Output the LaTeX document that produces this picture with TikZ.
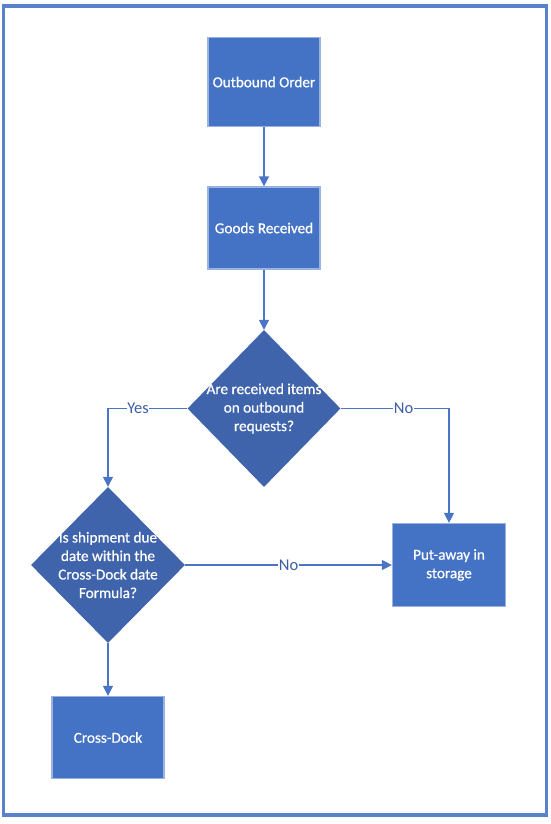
\documentclass[tikz,border=0pt]{standalone}
\usepackage{fontspec}
\setmainfont{Carlito}
\newfontfamily\boxfont{Carlito}[FakeBold=0.6]
\usetikzlibrary{shapes.geometric,arrows.meta}
\definecolor{boxblue}{HTML}{4472C4}
\definecolor{diablue}{HTML}{3F64AB}
\definecolor{edgeblue}{HTML}{9AB2DF}
\definecolor{lineblue}{HTML}{4A75C4}
\definecolor{labblue}{HTML}{3B5EA6}
\definecolor{frameblue}{HTML}{5A82CA}
\tikzset{
  txt/.style={font=\boxfont\fontsize{15.2}{18.5}\selectfont, text=white, align=center},
  procbox/.style={rectangle, fill=boxblue, draw=edgeblue, line width=1.2pt, inner sep=0pt, txt},
  decbox/.style={diamond, fill=diablue, draw=none, inner sep=0pt, aspect=1},
  conn/.style={draw=lineblue, line width=1.3pt, -{Triangle[length=10pt,width=10pt]}},
  elabel/.style={font=\fontsize{16.5}{19}\selectfont, text=labblue, fill=white, inner sep=0.5pt}
}
\begin{document}
\begin{tikzpicture}[x=1pt,y=-1pt]
\useasboundingbox (0,0) rectangle (551,824);
\draw[frameblue, line width=3.5pt] (3.7,5.8) rectangle (546.5,815);

\node[procbox, minimum width=112pt, minimum height=89pt] (oo) at (264,82) {Outbound Order};
\node[procbox, minimum width=112pt, minimum height=82pt] (gr) at (264,228) {Goods Received};
\node[decbox, minimum width=153pt, minimum height=157pt,
  label={[txt]center:Are received items\\on outbound\\requests?}] (d1) at (264,408.5) {};
\node[decbox, minimum width=154pt, minimum height=156pt,
  label={[txt]center:Is shipment due\\date within the\\Cross-Dock date\\Formula?}] (d2) at (108,565) {};
\node[procbox, minimum width=113pt, minimum height=83pt] (pa) at (449,565) {Put-away in\\storage};
\node[procbox, minimum width=112pt, minimum height=82pt] (cd) at (108,737.5) {Cross-Dock};

\draw[conn] (oo) -- (gr);
\draw[conn] (gr) -- (d1);
\draw[conn] (d1.west) -| node[elabel, pos=0.31] {Yes} (d2.north);
\draw[conn] (d1.east) -| node[elabel, pos=0.29] {No} (pa.north);
\draw[conn] (d2.east) -- node[elabel, pos=0.5] {No} (pa.west);
\draw[conn] (d2.south) -- (cd.north);
\end{tikzpicture}
\end{document}
